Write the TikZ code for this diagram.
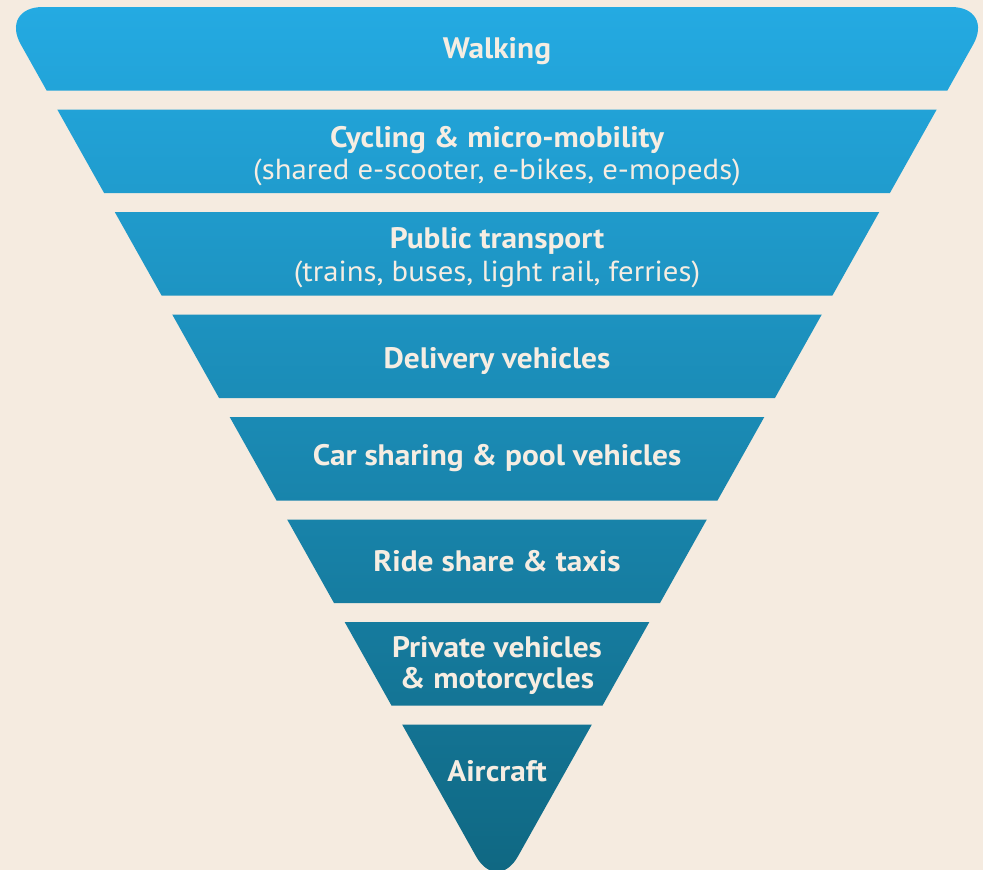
\documentclass[tikz,border=0pt]{standalone}
\usepackage{fontspec}
\setmainfont{PT Sans}[FakeStretch=1.06]
\definecolor{bg}{HTML}{F5EBE0}
\definecolor{topc}{HTML}{24AAE2}
\definecolor{botc}{HTML}{0F6680}
\definecolor{txt}{HTML}{F6EDE2}
\tikzset{
  lbl/.style={anchor=base, inner sep=0pt, text=txt, font=\fontsize{29.6}{32}\selectfont\bfseries},
  sub/.style={anchor=base, inner sep=0pt, text=txt, font=\fontsize{29}{32}\selectfont},
}
\begin{document}
\begin{tikzpicture}[x=1pt,y=-1pt]
\fill[bg] (0,0) rectangle (983,870);
\useasboundingbox (0,0) rectangle (983,870);
\begin{scope}
  \clip[rounded corners=43pt] (-0.2,7) -- (994.2,7) -- (497,893.7) -- cycle;
  \clip (-10,7) rectangle (1000,90.5)
        (-10,109.5) rectangle (1000,193)
        (-10,212) rectangle (1000,295.5)
        (-10,314.5) rectangle (1000,398)
        (-10,417) rectangle (1000,500.5)
        (-10,519.5) rectangle (1000,603)
        (-10,622) rectangle (1000,705.5)
        (-10,724.5) rectangle (1000,900);
  \shade[top color=topc, bottom color=botc] (-10,7) rectangle (1000,894);
\end{scope}
\node[lbl] (walk) at (497,58.3) {Walking};
\node[lbl] (cyc) at (497,147) {Cycling \& micro-mobility};
\node[sub] (cycsub) at (497,179) {(shared e-scooter, e-bikes, e-mopeds)};
\node[lbl] (pub) at (497,248.3) {Public transport};
\node[sub] (pubsub) at (497,281) {(trains, buses, light rail, ferries)};
\node[lbl] (del) at (497,368.3) {Delivery vehicles};
\node[lbl] (car) at (497,465) {Car sharing \& pool vehicles};
\node[lbl] (ride) at (497,571) {Ride share \& taxis};
\node[lbl] (priv) at (497,657.3) {Private vehicles};
\node[lbl] (moto) at (497,688.3) {\& motorcycles};
\node[lbl] (air) at (497,781) {Aircraft};
\end{tikzpicture}
\end{document}
